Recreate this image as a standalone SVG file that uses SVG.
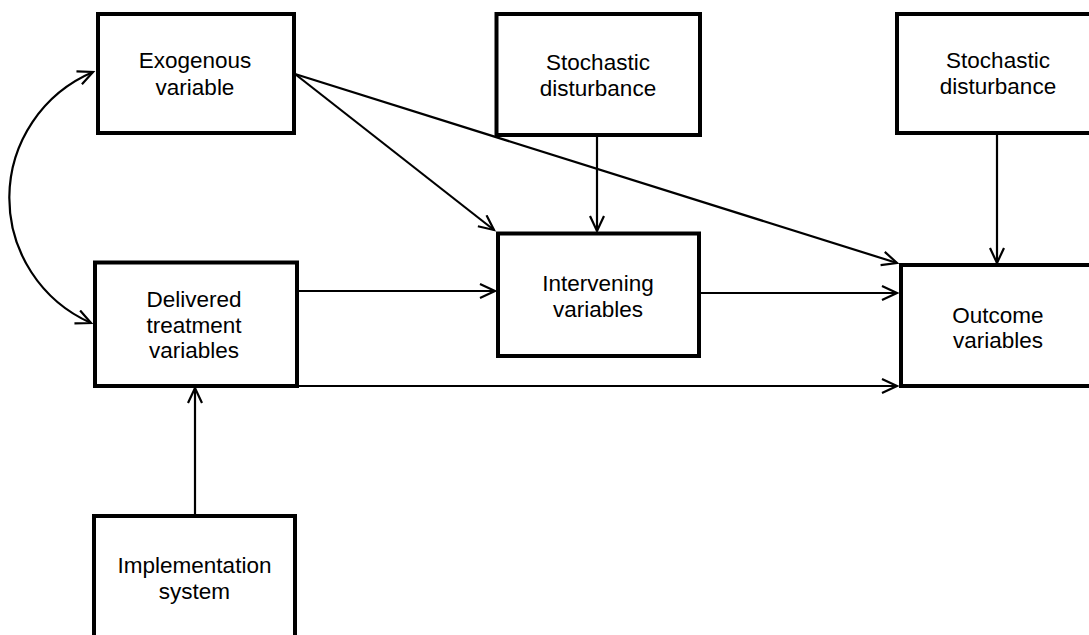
<svg xmlns="http://www.w3.org/2000/svg" width="1089" height="635" viewBox="0 0 1089 635">
  <style>
    .box { fill: #fff; stroke: #000; stroke-width: 4; }
    .lbl { font-family: "Liberation Sans", Arial, sans-serif; font-size: 22.5px; fill: #000; text-anchor: middle; }
    .con { fill: none; stroke: #000; stroke-width: 2.2; }
  </style>
  <defs>
    <marker id="arr" markerUnits="userSpaceOnUse" markerWidth="20" markerHeight="20" refX="16" refY="8" orient="auto-start-reverse">
      <path d="M1,1 L16,8 L1,15" fill="none" stroke="#000" stroke-width="2.2"/>
    </marker>
  </defs>
  <rect width="1089" height="635" fill="#fff"/>

  <g id="connectors">
    <path class="con" d="M93,72 A138,137 0 0 0 91,323" marker-start="url(#arr)" marker-end="url(#arr)"/>
    <line class="con" x1="295" y1="74" x2="494" y2="230" marker-end="url(#arr)"/>
    <line class="con" x1="295" y1="74" x2="897" y2="263" marker-end="url(#arr)"/>
    <line class="con" x1="597" y1="137" x2="597" y2="231" marker-end="url(#arr)"/>
    <line class="con" x1="997" y1="135" x2="997" y2="263" marker-end="url(#arr)"/>
    <line class="con" x1="297" y1="291" x2="495" y2="291" marker-end="url(#arr)"/>
    <line class="con" x1="699" y1="293" x2="897" y2="293" marker-end="url(#arr)"/>
    <line class="con" x1="297" y1="386" x2="897" y2="386" marker-end="url(#arr)"/>
    <line class="con" x1="195" y1="514" x2="195" y2="388" marker-end="url(#arr)"/>
  </g>

  <g id="exogenous">
    <rect class="box" x="98" y="14" width="196" height="119"/>
    <text class="lbl" x="195" y="68">Exogenous</text>
    <text class="lbl" x="195" y="94.5">variable</text>
  </g>
  <g id="stochastic1">
    <rect class="box" x="496.5" y="14" width="203.5" height="121"/>
    <text class="lbl" x="598" y="70">Stochastic</text>
    <text class="lbl" x="598" y="96">disturbance</text>
  </g>
  <g id="stochastic2">
    <rect class="box" x="897" y="14" width="203" height="119"/>
    <text class="lbl" x="998" y="68">Stochastic</text>
    <text class="lbl" x="998" y="94">disturbance</text>
  </g>
  <g id="intervening">
    <rect class="box" x="498" y="233.5" width="201" height="122.5"/>
    <text class="lbl" x="598" y="290.5">Intervening</text>
    <text class="lbl" x="598" y="316.5">variables</text>
  </g>
  <g id="delivered">
    <rect class="box" x="95" y="262.5" width="202" height="123.5"/>
    <text class="lbl" x="194" y="306.5">Delivered</text>
    <text class="lbl" x="194" y="332.5">treatment</text>
    <text class="lbl" x="194" y="357.5">variables</text>
  </g>
  <g id="outcome">
    <rect class="box" x="901" y="265" width="198" height="121"/>
    <text class="lbl" x="998" y="323">Outcome</text>
    <text class="lbl" x="998" y="348">variables</text>
  </g>
  <g id="implementation">
    <rect class="box" x="94" y="516" width="201" height="150"/>
    <text class="lbl" x="194.5" y="572.5">Implementation</text>
    <text class="lbl" x="194.5" y="598.5">system</text>
  </g>
</svg>
